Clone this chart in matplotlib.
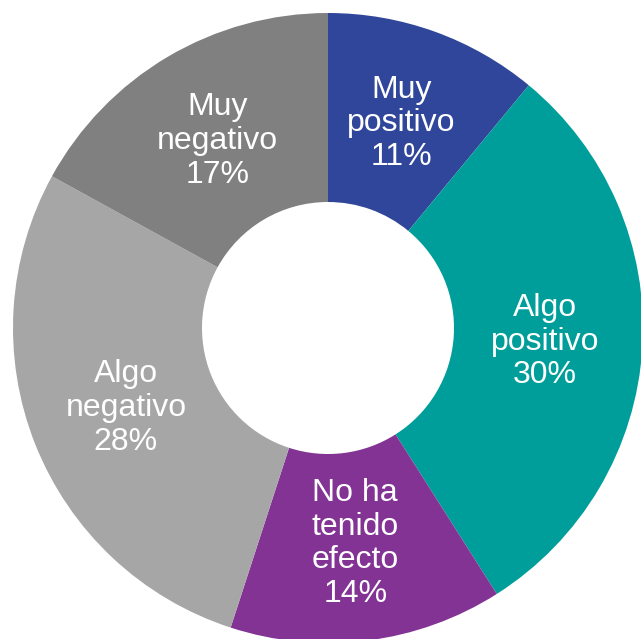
import matplotlib
matplotlib.use("Agg")
import matplotlib.pyplot as plt

labels = ["Muy\npositivo", "Algo\npositivo", "No ha\ntenido\nefecto", "Algo\nnegativo", "Muy\nnegativo"]
values = [11, 30, 14, 28, 17]
colors = ["#30469A", "#009E9A", "#833394", "#A6A6A6", "#808080"]

W, H = 641, 639
fig = plt.figure(figsize=(W / 100, H / 100), dpi=100)
ax = fig.add_axes([0, 0, 1, 1])

wedges, texts = ax.pie(
    values,
    colors=colors,
    startangle=90,
    counterclock=False,
    center=(328, H - 328),
    radius=315,
    wedgeprops=dict(width=315 * 0.6, linewidth=0),
    labels=[f"{l}\n{v}%" for l, v in zip(labels, values)],
    labeldistance=0.69,
    textprops=dict(color="white", fontsize=23, family="Liberation Sans",
                   linespacing=1.16),
)
for t in texts:
    t.set_horizontalalignment("center")
    t.set_verticalalignment("center")

ax.set_xlim(0, W)
ax.set_ylim(0, H)
ax.set_aspect("equal")
ax.axis("off")

fig.savefig("out.png", dpi=100)
